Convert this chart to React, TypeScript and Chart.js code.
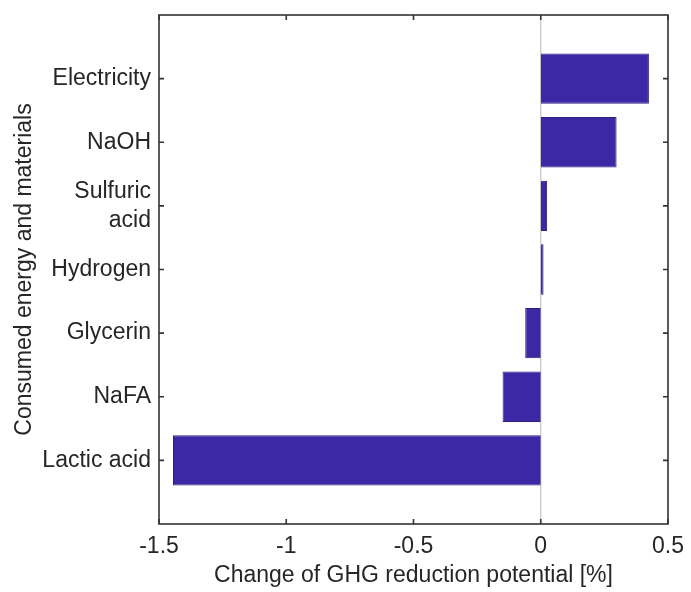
import React, { useEffect, useRef } from "react";
import { Chart, registerables } from "chart.js";

Chart.register(...registerables);

const categories: (string | string[])[] = [
  "Electricity",
  "NaOH",
  ["Sulfuric", "acid"],
  "Hydrogen",
  "Glycerin",
  "NaFA",
  "Lactic acid",
];
const values = [0.425, 0.298, 0.025, 0.011, -0.061, -0.15, -1.445];
const xTickValues = [-1.5, -1, -0.5, 0, 0.5];
const xTickLabels = ["-1.5", "-1", "-0.5", "0", "0.5"];
const xTitle = "Change of GHG reduction potential [%]";
const yTitle = "Consumed energy and materials";

const FONT = "'Liberation Sans', Arial, Helvetica, sans-serif";
const TEXT = "#262626";

const framePlugin = {
  id: "matlabFrame",
  beforeDatasetsDraw(chart: any) {
    const { ctx, chartArea: a, scales } = chart;
    const zx = scales.x.getPixelForValue(0);
    ctx.save();
    ctx.strokeStyle = "#c4c4c4";
    ctx.lineWidth = 1.2;
    ctx.beginPath();
    ctx.moveTo(zx, a.top);
    ctx.lineTo(zx, a.bottom);
    ctx.stroke();
    ctx.restore();
  },
  afterDatasetsDraw(chart: any) {
    const { ctx, chartArea: a, scales } = chart;
    const tl = 5;
    ctx.save();
    ctx.strokeStyle = "#333333";
    ctx.lineWidth = 1.6;
    ctx.strokeRect(a.left, a.top, a.right - a.left, a.bottom - a.top);
    ctx.beginPath();
    xTickValues.forEach((v) => {
      const px = scales.x.getPixelForValue(v);
      ctx.moveTo(px, a.bottom);
      ctx.lineTo(px, a.bottom - tl);
      ctx.moveTo(px, a.top);
      ctx.lineTo(px, a.top + tl);
    });
    categories.forEach((_, i) => {
      const py = scales.y.getPixelForValue(i + 1);
      ctx.moveTo(a.left, py);
      ctx.lineTo(a.left + tl, py);
      ctx.moveTo(a.right, py);
      ctx.lineTo(a.right - tl, py);
    });
    ctx.stroke();
    ctx.restore();
  },
};

export default function App() {
  const ref = useRef<HTMLCanvasElement | null>(null);

  useEffect(() => {
    if (!ref.current) return;
    const chart = new Chart(ref.current, {
      type: "bar",
      data: {
        datasets: [
          {
            data: values.map((v, i) => ({ x: v, y: i + 1 })),
            backgroundColor: "#3c27a5",
            borderColor: "#2e2080",
            borderWidth: 1,
            barPercentage: 0.79,
            categoryPercentage: 1,
          },
        ],
      },
      options: {
        indexAxis: "y",
        animation: false,
        responsive: false,
        maintainAspectRatio: false,
        layout: { padding: { top: 15, right: 23, left: 0, bottom: 0 } },
        plugins: { legend: { display: false }, tooltip: { enabled: false } },
        scales: {
          x: {
            type: "linear",
            min: -1.5,
            max: 0.5,
            offset: false,
            grid: { display: false, drawTicks: false },
            border: { display: false },
            afterBuildTicks: (s: any) => {
              s.ticks = xTickValues.map((v) => ({ value: v }));
            },
            afterFit: (s: any) => {
              s.height = 68;
              s.paddingLeft = 0;
              s.paddingRight = 0;
            },
            ticks: {
              autoSkip: false,
              maxRotation: 0,
              padding: 9,
              color: TEXT,
              font: { family: FONT, size: 23 },
              callback: (v: any) => {
                const i = xTickValues.indexOf(Number(v));
                return i >= 0 ? xTickLabels[i] : "";
              },
            },
            title: {
              display: true,
              text: xTitle,
              color: TEXT,
              font: { family: FONT, size: 23 },
              padding: { top: 0, bottom: 3 },
            },
          },
          y: {
            type: "linear",
            min: 0,
            max: 8,
            reverse: true,
            offset: false,
            grid: { display: false, drawTicks: false },
            border: { display: false },
            afterBuildTicks: (s: any) => {
              s.ticks = categories.map((_, i) => ({ value: i + 1 }));
            },
            afterFit: (s: any) => {
              s.width = 159;
              s.paddingTop = 0;
              s.paddingBottom = 0;
            },
            ticks: {
              autoSkip: false,
              padding: 8,
              color: TEXT,
              font: { family: FONT, size: 23, lineHeight: 1.25 },
              callback: (v: any) => {
                const i = Math.round(Number(v)) - 1;
                return categories[i] ?? "";
              },
            },
            title: {
              display: true,
              text: yTitle,
              color: TEXT,
              font: { family: FONT, size: 23 },
              padding: { top: 11, bottom: 0 },
            },
          },
        },
      },
      plugins: [framePlugin],
    } as any);
    return () => chart.destroy();
  }, []);

  return (
    <div style={{ position: "absolute", left: 0, top: 0, width: 691, height: 592, background: "#fff" }}>
      <canvas ref={ref} width={691} height={592} style={{ width: 691, height: 592, display: "block" }} />
    </div>
  );
}
